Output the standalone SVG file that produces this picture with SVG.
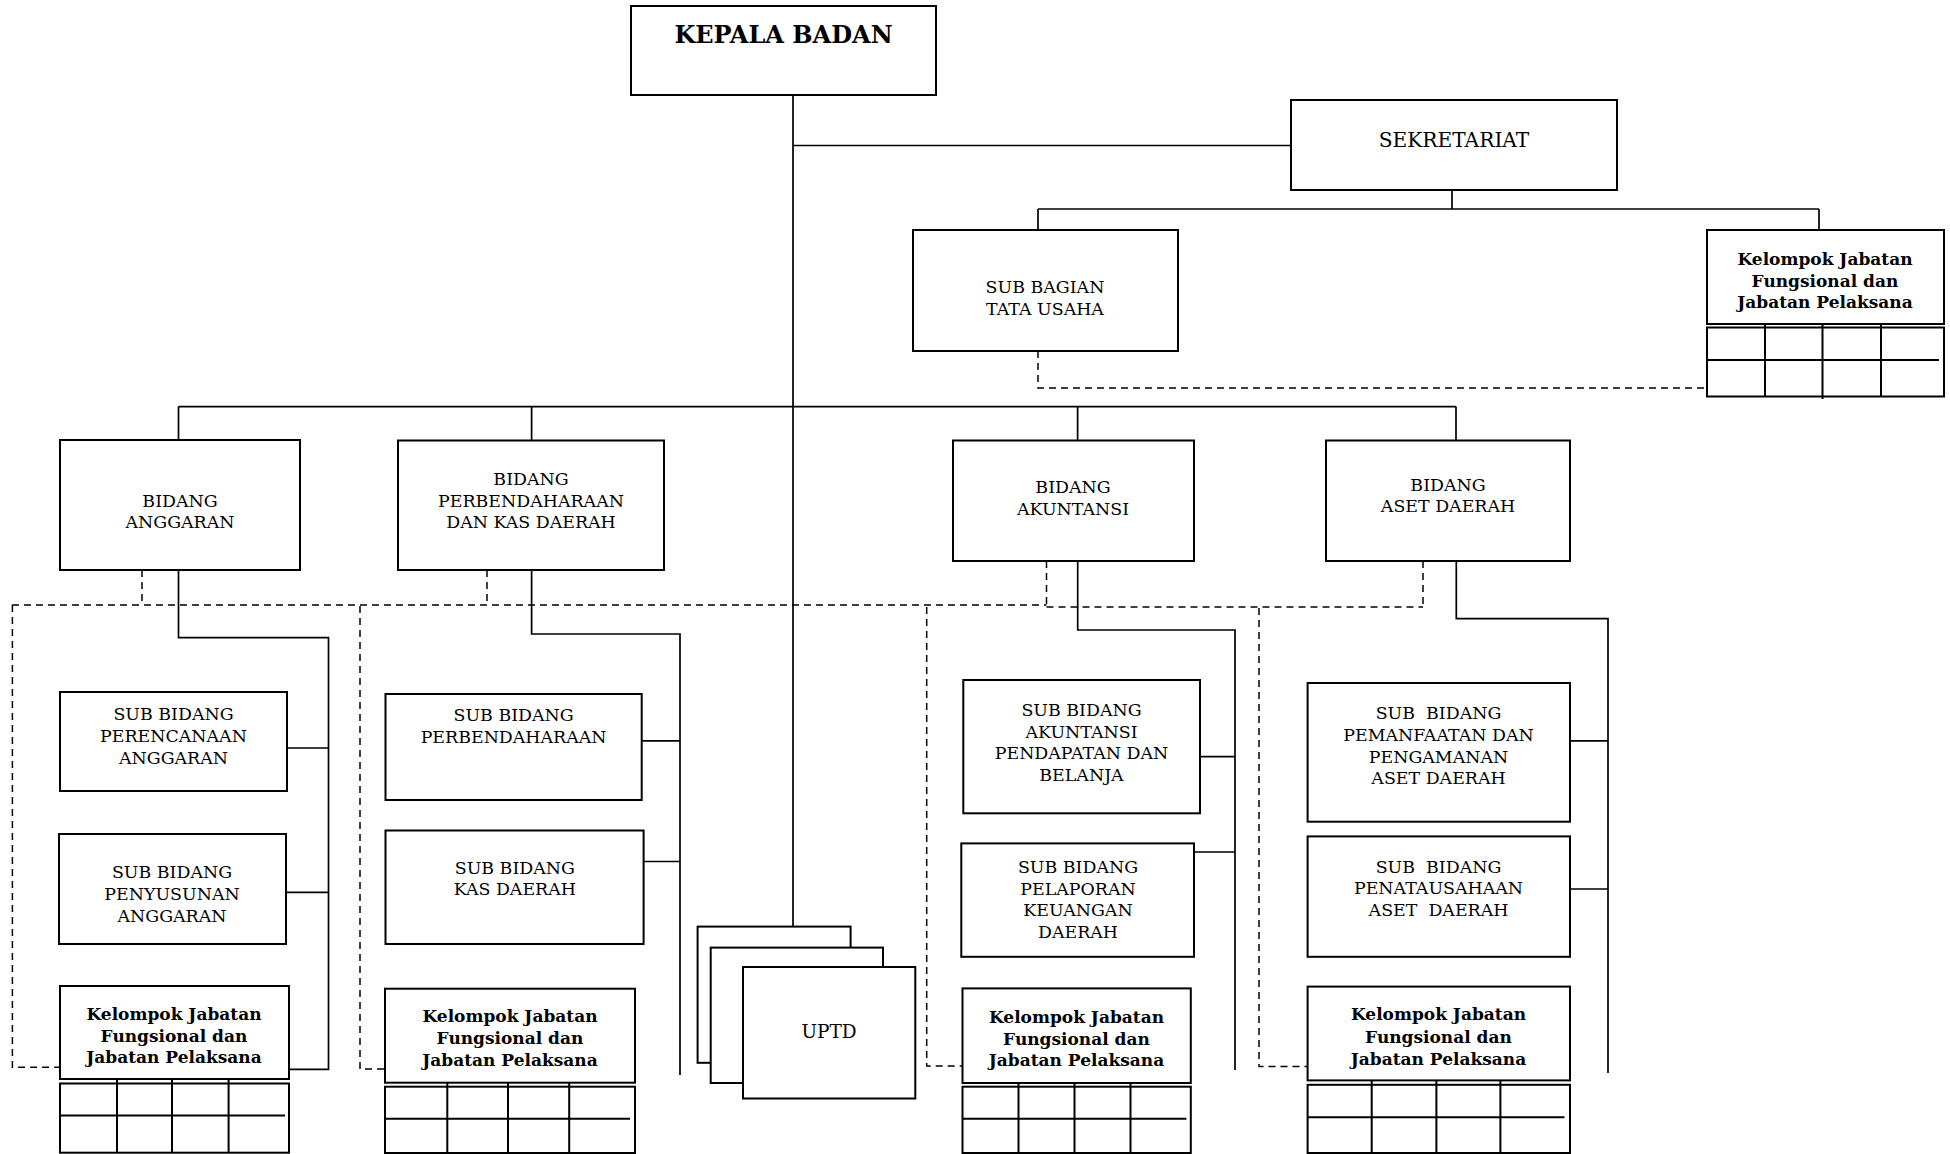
<svg xmlns="http://www.w3.org/2000/svg" width="1950" height="1154" viewBox="0 0 1950 1154">
<style>
.box{fill:#fff;stroke:#000;stroke-width:2}
.ln{fill:none;stroke:#000;stroke-width:1.7}
.ds{fill:none;stroke:#000;stroke-width:1.5;stroke-dasharray:7 5}
.gr{fill:none;stroke:#000;stroke-width:2}
text{font-family:"DejaVu Serif","Liberation Serif",serif;fill:#000;text-anchor:middle}
.t{font-size:17.4px}
.b{font-size:17px;font-weight:bold}
</style>
<rect width="1950" height="1154" fill="#fff"/>
<g id="connectors">
<path class="ln" d="M793 95V926.6M793 145.5H1291M1452 190V209M1038 209H1819M1038 209V230M1819 209V230"/>
<path class="ln" d="M178.5 406.6H1456M178.5 406.6V440M531.6 406.6V440.5M1077.6 406.6V440.5M1456 406.6V440.5"/>
<path class="ln" d="M178.5 570V637.7H328.5V1069.3H289M287 748H328.5M286 892.4H328.5"/>
<path class="ln" d="M531.6 570V634H680V1075M641.7 740.8H680M643.6 861.5H680"/>
<path class="ln" d="M1077.7 561V630H1235V1070M1200 756.7H1235M1194 852H1235"/>
<path class="ln" d="M1456.3 561V618.6H1608V1073M1570 740.8H1608M1570 889H1608"/>
<path class="ds" d="M1038 351V388H1707"/>
<path class="ds" d="M12 605H1046.5M1046.5 607H1423M142 570V605M487 570V605M1046.5 561V607M1423 561V607"/>
<path class="ds" d="M12.4 605V1067.3H60M360 606V1069H385M926.7 607V1066H962.5M1259 608V1066.5H1307.6"/>
</g>
<g id="kepala"><rect class="box" x="631" y="6" width="305" height="89"/><text x="783.5" y="43" style="font-size:24px;font-weight:bold">KEPALA BADAN</text></g>
<g id="sekretariat"><rect class="box" x="1291" y="100" width="326" height="90"/><text x="1454" y="147" style="font-size:20.2px">SEKRETARIAT</text></g>
<g id="subbag-tu"><rect class="box" x="913" y="230" width="265" height="121"/><text class="t" x="1045" y="293">SUB BAGIAN</text><text class="t" x="1045" y="315">TATA USAHA</text></g>
<g id="kelompok-sekretariat"><rect class="box" x="1707" y="230" width="237" height="94"/><text class="b" x="1825" y="265">Kelompok Jabatan</text><text class="b" x="1825" y="287">Fungsional dan</text><text class="b" x="1825" y="308">Jabatan Pelaksana</text>
<rect class="gr" x="1707" y="327.5" width="237" height="69"/><path class="gr" d="M1765 325V396.7M1822.5 325V399M1881 325V396.7M1707 360H1939"/></g>
<g id="bidang-anggaran"><rect class="box" x="60" y="440" width="240" height="130"/><text class="t" x="180" y="507">BIDANG</text><text class="t" x="180" y="528">ANGGARAN</text></g>
<g id="bidang-perbendaharaan"><rect class="box" x="398" y="440.5" width="266" height="129.5"/><text class="t" x="531" y="485">BIDANG</text><text class="t" x="531" y="506.5">PERBENDAHARAAN</text><text class="t" x="531" y="528">DAN KAS DAERAH</text></g>
<g id="bidang-akuntansi"><rect class="box" x="953" y="440.5" width="241" height="120.5"/><text class="t" x="1073" y="493">BIDANG</text><text class="t" x="1073" y="514.5">AKUNTANSI</text></g>
<g id="bidang-aset"><rect class="box" x="1326" y="440.5" width="244" height="120.5"/><text class="t" x="1448" y="491">BIDANG</text><text class="t" x="1448" y="512">ASET DAERAH</text></g>
<g id="sub-perencanaan"><rect class="box" x="60" y="692" width="227" height="99"/><text class="t" x="173.5" y="720">SUB BIDANG</text><text class="t" x="173.5" y="742">PERENCANAAN</text><text class="t" x="173.5" y="764">ANGGARAN</text></g>
<g id="sub-penyusunan"><rect class="box" x="59" y="834" width="227" height="110"/><text class="t" x="172" y="878">SUB BIDANG</text><text class="t" x="172" y="899.5">PENYUSUNAN</text><text class="t" x="172" y="921.5">ANGGARAN</text></g>
<g id="kelompok-anggaran"><rect class="box" x="60" y="986" width="229" height="93"/><text class="b" x="174" y="1020">Kelompok Jabatan</text><text class="b" x="174" y="1041.5">Fungsional dan</text><text class="b" x="174" y="1063">Jabatan Pelaksana</text>
<rect class="gr" x="60" y="1083.5" width="229" height="69.2"/><path class="gr" d="M117 1080V1152.7M172 1080V1152.7M228.6 1080V1152.7M60 1115.5H285"/></g>
<g id="sub-perbendaharaan"><rect class="box" x="385.5" y="694" width="256.2" height="106"/><text class="t" x="513.6" y="721">SUB BIDANG</text><text class="t" x="513.6" y="742.6">PERBENDAHARAAN</text></g>
<g id="sub-kas-daerah"><rect class="box" x="385.5" y="830.5" width="258.1" height="113.5"/><text class="t" x="514.8" y="874">SUB BIDANG</text><text class="t" x="514.8" y="895">KAS DAERAH</text></g>
<g id="kelompok-perbendaharaan"><rect class="box" x="385" y="988.7" width="250" height="94"/><text class="b" x="510" y="1022">Kelompok Jabatan</text><text class="b" x="510" y="1044">Fungsional dan</text><text class="b" x="510" y="1066">Jabatan Pelaksana</text>
<rect class="gr" x="385" y="1086.7" width="250" height="66.3"/><path class="gr" d="M447.3 1083V1153M508 1083V1153M569.2 1083V1153M385 1118.7H630"/></g>
<g id="uptd"><rect class="box" x="697.6" y="926.6" width="153" height="136.2"/><rect class="box" x="710.7" y="947.6" width="172.3" height="135.4"/><rect class="box" x="743" y="967" width="172.3" height="131.5"/><text x="829" y="1037.7" style="font-size:18.5px">UPTD</text></g>
<g id="sub-akuntansi"><rect class="box" x="963.3" y="680" width="236.7" height="133.3"/><text class="t" x="1081.5" y="716">SUB BIDANG</text><text class="t" x="1081.5" y="737.7">AKUNTANSI</text><text class="t" x="1081.5" y="759.4">PENDAPATAN DAN</text><text class="t" x="1081.5" y="781">BELANJA</text></g>
<g id="sub-pelaporan"><rect class="box" x="961.3" y="843.4" width="232.7" height="113.4"/><text class="t" x="1078" y="873">SUB BIDANG</text><text class="t" x="1078" y="894.5">PELAPORAN</text><text class="t" x="1078" y="916">KEUANGAN</text><text class="t" x="1078" y="937.5">DAERAH</text></g>
<g id="kelompok-akuntansi"><rect class="box" x="962.5" y="988.4" width="228.3" height="94.6"/><text class="b" x="1076.5" y="1023">Kelompok Jabatan</text><text class="b" x="1076.5" y="1045">Fungsional dan</text><text class="b" x="1076.5" y="1066.4">Jabatan Pelaksana</text>
<rect class="gr" x="962.5" y="1086.7" width="228.3" height="66.3"/><path class="gr" d="M1018.5 1083V1153M1074.5 1083V1153M1130.5 1083V1153M962.5 1118.7H1186.4"/></g>
<g id="sub-pemanfaatan"><rect class="box" x="1307.6" y="683" width="262.4" height="138.7"/><text class="t" x="1438.5" y="718.7" xml:space="preserve">SUB  BIDANG</text><text class="t" x="1438.5" y="740.8">PEMANFAATAN DAN</text><text class="t" x="1438.5" y="762.8">PENGAMANAN</text><text class="t" x="1438.5" y="784.2">ASET DAERAH</text></g>
<g id="sub-penatausahaan"><rect class="box" x="1307.6" y="836.4" width="262.4" height="120.4"/><text class="t" x="1438.5" y="873" xml:space="preserve">SUB  BIDANG</text><text class="t" x="1438.5" y="894">PENATAUSAHAAN</text><text class="t" x="1438.5" y="916" xml:space="preserve">ASET  DAERAH</text></g>
<g id="kelompok-aset"><rect class="box" x="1307.6" y="986.6" width="262.4" height="93.8"/><text class="b" x="1438.5" y="1020.4">Kelompok Jabatan</text><text class="b" x="1438.5" y="1042.5">Fungsional dan</text><text class="b" x="1438.5" y="1064.6">Jabatan Pelaksana</text>
<rect class="gr" x="1307.6" y="1084.8" width="262.4" height="68.2"/><path class="gr" d="M1371.7 1081V1153M1436.4 1081V1153M1500.4 1081V1153M1307.6 1117.2H1564.5"/></g>
</svg>
